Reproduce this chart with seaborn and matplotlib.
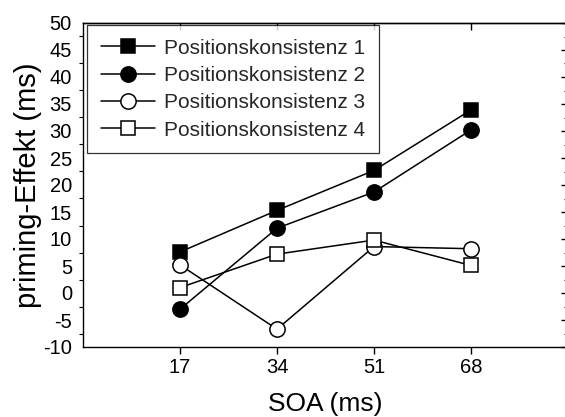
import matplotlib
matplotlib.use("Agg")
import matplotlib.pyplot as plt
import seaborn as sns
import pandas as pd
from matplotlib.ticker import MultipleLocator

sns.set_theme(style="white")
plt.rcParams['font.family'] = ['Liberation Sans', 'DejaVu Sans']
plt.rcParams['axes.unicode_minus'] = False

soa = [17, 34, 51, 68]
series_names = ["Positionskonsistenz 1", "Positionskonsistenz 2",
                "Positionskonsistenz 3", "Positionskonsistenz 4"]
pk1 = [7.6, 15.3, 22.7, 33.9]
pk2 = [-3.0, 12.0, 18.7, 30.2]
pk3 = [5.2, -6.7, 8.6, 8.2]
pk4 = [1.0, 7.2, 9.8, 5.1]
values = [pk1, pk2, pk3, pk4]
markers = ["s", "o", "o", "s"]
facecolors = ["black", "black", "white", "white"]
yticks = [-10, -5, 0, 5, 10, 15, 20, 25, 30, 35, 40, 45, 50]

fig = plt.figure(figsize=(5.65, 4.17), dpi=100)
ax = fig.add_axes([83/565, (417-347)/417, (568-83)/565, (347-23)/417])

for name, vals, m, fc in zip(series_names, values, markers, facecolors):
    df = pd.DataFrame({"SOA": soa, "effekt": vals})
    sns.lineplot(data=df, x="SOA", y="effekt", ax=ax, color="black",
                 marker=m, markersize=10 if m == "s" else 11,
                 markerfacecolor=fc, markeredgecolor="black",
                 markeredgewidth=1.1, linewidth=1.1, label=name)

ax.set_xlim(0, 85)
ax.set_ylim(-10, 50)
ax.set_xticks(soa)
ax.set_xticklabels([str(s) for s in soa])
ax.set_yticks(yticks)
ax.set_yticklabels([str(t) for t in yticks])
ax.yaxis.set_minor_locator(MultipleLocator(2.5))

for sp in ax.spines.values():
    sp.set_color("black")
    sp.set_linewidth(1.0)

ax.tick_params(axis="both", which="major", direction="out", length=5, width=1,
               color="black", labelsize=14.5, labelcolor="black", pad=3)
ax.tick_params(axis="y", which="minor", direction="out", length=3, width=0.8,
               color="black", left=True)
ax.tick_params(axis="x", which="major", bottom=True)

sec_y = ax.secondary_yaxis("right")
sec_y.set_yticks(yticks)
sec_y.yaxis.set_minor_locator(MultipleLocator(2.5))
sec_y.tick_params(which="major", direction="in", length=5, width=1, labelright=False, color="black")
sec_y.tick_params(which="minor", direction="in", length=3, width=0.8, color="black")
sec_y.spines["right"].set_linewidth(1.0)

sec_x = ax.secondary_xaxis("top")
sec_x.set_xticks(soa)
sec_x.tick_params(which="major", direction="in", length=5, width=1, labeltop=False, color="black")
sec_x.spines["top"].set_linewidth(1.0)

ax.set_xlabel("SOA (ms)", fontsize=19, color="black", labelpad=10.5)
ax.set_ylabel("priming-Effekt (ms)", fontsize=21, color="black", labelpad=1)

leg = ax.legend(loc="upper left", bbox_to_anchor=(87/565, 1-25/417),
                bbox_transform=fig.transFigure, borderaxespad=0,
                frameon=True, fancybox=False, shadow=False,
                fontsize=15, handlelength=2.6, handletextpad=0.45,
                labelspacing=0.4, borderpad=0.65, edgecolor="black")
leg.get_frame().set_linewidth(0.9)

fig.savefig("out.png", dpi=100, facecolor="white")
